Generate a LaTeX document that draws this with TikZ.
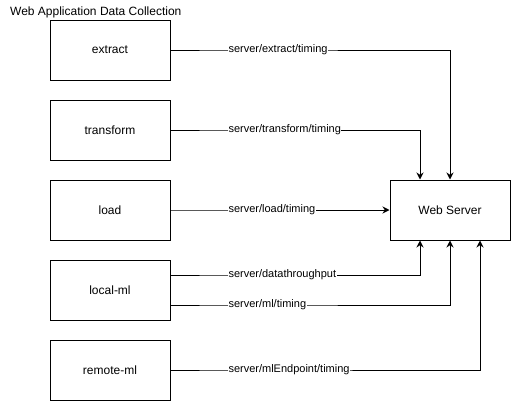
\documentclass[tikz,border=0pt]{standalone}
\usepackage{fontspec}
\setmainfont{Liberation Sans}
\usetikzlibrary{positioning,arrows.meta}
\tikzstyle{block} = [draw=black,line width=1pt,minimum width=120pt,minimum height=60pt,inner sep=0pt,font=\fontsize{12}{14}\selectfont]
\tikzstyle{lbl} = [fill=white,inner sep=0.5pt,anchor=west,font=\fontsize{11}{13}\selectfont]
\tikzstyle{arrow} = [line width=1pt,-{Stealth[length=7pt,width=7pt]}]

\begin{document}
\begin{tikzpicture}[x=1pt,y=-1pt]
\useasboundingbox (0,0) rectangle (512,402);
\node[anchor=base west,inner sep=0pt,font=\fontsize{12}{14}\selectfont] (title) at (10,15) {Web Application Data Collection};

\node[block] (extract) at (110,50) {extract};
\node[block] (transform) at (110,130) {transform};
\node[block] (load) at (110,210) {load};
\node[block] (localml) at (110,290) {local-ml};
\node[block] (remoteml) at (110,370) {remote-ml};
\node[block] (server) at (450,210) {Web Server};

\draw[arrow] (extract.east) -- ++(57,0) node[lbl]{server/extract/timing} -| (server.north);
\draw[arrow] (transform.east) -- ++(57,0) node[lbl]{server/transform/timing} -| ([xshift=-30pt]server.north);
\draw[arrow] (load.east) -- ++(57,0) node[lbl]{server/load/timing} -- (server.west);
\draw[arrow] ([yshift=15pt]localml.east) -- ++(57,0) node[lbl]{server/datathroughput} -| ([xshift=-30pt]server.south);
\draw[arrow] ([yshift=-15pt]localml.east) -- ++(57,0) node[lbl]{server/ml/timing} -| (server.south);
\draw[arrow] (remoteml.east) -- ++(57,0) node[lbl]{server/mlEndpoint/timing} -| ([xshift=30pt]server.south);
\end{tikzpicture}
\end{document}
